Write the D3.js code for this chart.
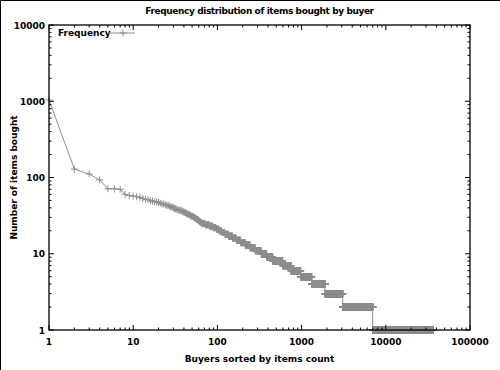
<!doctype html>
<html>
<head>
<style>
body { margin: 0; background: #fff; }
text { font-family: "DejaVu Sans", sans-serif; font-weight: bold; font-size: 9px; fill: #000; }
</style>
</head>
<body>
<div id="root"></div>
<script src="https://d3js.org/d3.v7.min.js"></script>
<script>
// item counts for the first buyers, rank 1..30
var topValues = [1040, 129, 111, 93, 71, 71, 70, 60, 58, 57,
  56, 55, 53, 52, 51, 50, 49, 48, 48, 47,
  46, 45, 45, 44, 43, 43, 42, 41, 41, 40];
// after that, each count holds until the given rank
var runValues = [39, 38, 37, 36, 35, 34, 33, 32, 31, 30, 29, 28, 27, 26, 25, 24, 23, 22, 21, 20,
  19, 18, 17, 16, 15, 14, 13, 12, 11, 10, 9, 8, 7, 6, 5, 4, 3, 2, 1];
var runLastRank = [32, 34, 37, 39, 41, 43, 46, 48, 51, 54, 56, 59, 61, 64, 71, 80, 88, 96, 104, 112,
  122, 135, 151, 167, 188, 213, 244, 280, 330, 385, 455, 595, 748, 975, 1318, 1897, 3076, 6985, 36650];

var xTicks = [1, 10, 100, 1000, 10000, 100000];
var yTicks = [1, 10, 100, 1000, 10000];

var points = [];
topValues.forEach(function(v, i) { points.push([i + 1, v]); });
var r = topValues.length + 1;
runValues.forEach(function(v, i) {
  for (; r <= runLastRank[i]; r++) points.push([r, v]);
});

var W = 500, H = 370;
var x = d3.scaleLog().domain([1, 1e5]).range([49, 470]);
var y = d3.scaleLog().domain([1, 1e4]).range([330, 25]);

var svg = d3.select('#root').append('svg')
  .attr('width', W).attr('height', H);

// frame of the image
svg.append('path').attr('d', 'M0.5,' + H + 'V0.5H' + W)
  .attr('fill', 'none').attr('stroke', '#000');

var gray = '#8e8e8e';

// data line
var line = d3.line().x(function(d) { return x(d[0]); }).y(function(d) { return y(d[1]); });
svg.append('path').datum(points)
  .attr('d', line)
  .attr('fill', 'none').attr('stroke', gray).attr('stroke-width', 1);

// point markers
var s = 3.5;
var mk = [];
points.forEach(function(d) {
  var px = x(d[0]), py = y(d[1]);
  mk.push('M' + (px - s).toFixed(1) + ',' + py.toFixed(1) + 'h' + (2 * s) +
    'M' + px.toFixed(1) + ',' + (py - s).toFixed(1) + 'v' + (2 * s));
});
svg.append('path').attr('d', mk.join(''))
  .attr('fill', 'none').attr('stroke', gray).attr('stroke-width', 1);

// ticks on all four sides
var x0 = x.range()[0], x1 = x.range()[1], y0 = y.range()[0], y1 = y.range()[1];
var tk = [];
function minorOf(ticks) {
  var out = [];
  ticks.slice(0, -1).forEach(function(t) { for (var k = 2; k <= 9; k++) out.push(t * k); });
  return out;
}
xTicks.forEach(function(t) {
  var px = x(t);
  tk.push('M' + px + ',' + y0 + 'v-5M' + px + ',' + y1 + 'v5');
});
minorOf(xTicks).forEach(function(t) {
  var px = x(t);
  tk.push('M' + px + ',' + y0 + 'v-2.5M' + px + ',' + y1 + 'v2.5');
});
yTicks.forEach(function(t) {
  var py = y(t);
  tk.push('M' + x0 + ',' + py + 'h5M' + x1 + ',' + py + 'h-5');
});
minorOf(yTicks).forEach(function(t) {
  var py = y(t);
  tk.push('M' + x0 + ',' + py + 'h2.5M' + x1 + ',' + py + 'h-2.5');
});
svg.append('path').attr('d', tk.join(''))
  .attr('fill', 'none').attr('stroke', '#000').attr('stroke-width', 1);

svg.append('rect')
  .attr('x', x0).attr('y', y1).attr('width', x1 - x0).attr('height', y0 - y1)
  .attr('fill', 'none').attr('stroke', '#000').attr('stroke-width', 1.3);

// tick labels
svg.selectAll('.xl').data(xTicks).enter().append('text')
  .attr('x', function(d) { return x(d); }).attr('y', 345)
  .attr('text-anchor', 'middle').text(function(d) { return d; });
svg.selectAll('.yl').data(yTicks).enter().append('text')
  .attr('x', 45).attr('y', function(d) { return y(d) + 3.5; })
  .attr('text-anchor', 'end').text(function(d) { return d; });

// titles
svg.append('text').attr('x', (x0 + x1) / 2).attr('y', 14)
  .attr('text-anchor', 'middle').attr('letter-spacing', '-0.4px')
  .text('Frequency distribution of items bought by buyer');
svg.append('text').attr('x', (x0 + x1) / 2).attr('y', 362)
  .attr('text-anchor', 'middle').text('Buyers sorted by items count');
svg.append('text')
  .attr('transform', 'translate(17,' + ((y0 + y1) / 2) + ') rotate(-90)')
  .attr('text-anchor', 'middle').text('Number of items bought');

// legend
svg.append('text').attr('x', 58).attr('y', 36).text('Frequency');
svg.append('path').attr('d', 'M108,33H135M119.5,33h7M123,29.5v7')
  .attr('fill', 'none').attr('stroke', gray);
</script>
</body>
</html>
